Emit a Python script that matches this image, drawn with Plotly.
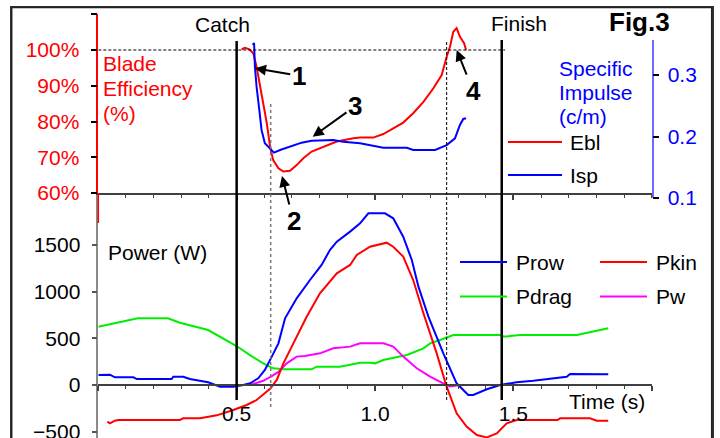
import plotly.graph_objects as go

# ---------------- data ----------------
# Lower panel: power (W) vs time (s)
t_prow = [0.000, 0.042, 0.060, 0.127, 0.139, 0.265, 0.271, 0.307, 0.331, 0.397, 0.440, 0.488, 0.524, 0.549,
          0.578, 0.602, 0.627, 0.651, 0.675, 0.717, 0.765, 0.807, 0.837, 0.862, 0.910, 0.946, 0.976, 1.036,
          1.066, 1.102, 1.133, 1.157, 1.193, 1.247, 1.295, 1.337, 1.355, 1.404, 1.452, 1.512, 1.572, 1.657,
          1.693, 1.705, 1.843]
prow = [107, 110, 82, 82, 64, 64, 89, 89, 64, 29, -18, -18, 0, 18,
        72, 161, 304, 446, 714, 929, 1125, 1286, 1446, 1536, 1643, 1732, 1839, 1839,
        1786, 1589, 1339, 1054, 732, 339, 18, -107, -107, -46, 0, 29, 46, 79,
        89, 118, 114]

t_pkin = [0.033, 0.042, 0.060, 0.072, 0.295, 0.307, 0.368, 0.428, 0.488, 0.536, 0.572, 0.602, 0.621,
          0.645, 0.669, 0.705, 0.753, 0.801, 0.862, 0.910, 0.934, 0.982, 1.042, 1.066, 1.102, 1.138,
          1.175, 1.223, 1.259, 1.295, 1.331, 1.368, 1.404, 1.440, 1.476, 1.512, 1.660, 1.669, 1.777,
          1.801, 1.843]
pkin = [-393, -411, -382, -375, -375, -357, -357, -325, -268, -214, -161, -89, -40,
        54, 232, 446, 732, 982, 1196, 1286, 1393, 1482, 1525, 1482, 1375, 1125,
        768, 339, -18, -304, -446, -536, -561, -518, -411, -375, -375, -357, -357,
        -382, -382]

t_pdrag = [0.000, 0.070, 0.143, 0.252, 0.295, 0.397, 0.501, 0.548, 0.596, 0.632, 0.669, 0.771, 0.789,
           0.873, 0.946, 0.982, 1.000, 1.030, 1.115, 1.175, 1.199, 1.235, 1.283, 1.452, 1.465, 1.477,
           1.500, 1.524, 1.730, 1.843]
pdrag = [625, 665, 714, 714, 667, 589, 415, 321, 232, 179, 168, 168, 196,
         196, 239, 239, 232, 268, 321, 393, 446, 482, 536, 536, 520, 520,
         530, 536, 536, 607]

t_pw = [0.000, 0.524, 0.560, 0.596, 0.627, 0.651, 0.681, 0.717, 0.747, 0.801, 0.849, 0.910, 0.946,
        1.030, 1.066, 1.102, 1.151, 1.199, 1.241, 1.271, 1.307, 1.843]
pw = [0, 0, 11, 45, 95, 140, 232, 304, 311, 339, 393, 411, 446,
      446, 411, 304, 179, 89, 25, -15, 0, 0]

# Upper panel: blade efficiency (%) and specific impulse (c/m)
t_ebl = [0.518, 0.530, 0.546, 0.560, 0.572, 0.584, 0.596, 0.609, 0.621, 0.632, 0.651, 0.669, 0.693,
         0.717, 0.741, 0.771, 0.813, 0.862, 0.922, 0.946, 0.994, 1.030, 1.066, 1.102, 1.138, 1.175,
         1.211, 1.241, 1.259, 1.271, 1.283, 1.295, 1.307, 1.322, 1.329]
ebl = [100.2, 100.6, 100.2, 99.1, 95.3, 89.7, 85.1, 79.5, 72.9, 69.2, 66.9, 66.0, 66.2,
       67.8, 69.7, 71.6, 72.9, 74.4, 75.3, 75.5, 75.5, 76.5, 78.1, 79.7, 82.3, 85.5,
       89.3, 93.0, 98.1, 100.9, 105.1, 106.1, 103.7, 101.9, 100.0]

t_isp = [0.558, 0.563, 0.566, 0.572, 0.582, 0.590, 0.602, 0.621, 0.635, 0.657, 0.693, 0.735, 0.771,
         0.849, 0.885, 0.934, 0.946, 1.030, 1.115, 1.138, 1.217, 1.259, 1.289, 1.307, 1.319, 1.329]
isp = [0.349, 0.352, 0.3135, 0.281, 0.243, 0.2106, 0.189, 0.181, 0.1737, 0.178, 0.1834, 0.190, 0.1932,
       0.1943, 0.1915, 0.190, 0.189, 0.1818, 0.1818, 0.178, 0.178, 0.186, 0.197, 0.2187, 0.2285, 0.2296]

# tick values / labels
x_major = [0, 0.5, 1.0, 1.5, 2.0]
x_labels = ["", "0.5", "1.0", "1.5", ""]
power_ticks = [-500, 0, 500, 1000, 1500]
eff_ticks = [60, 70, 80, 90, 100, 110]
eff_labels = ["60%", "70%", "80%", "90%", "100%", ""]
isp_ticks = [0.1, 0.2, 0.3]
isp_labels = ["0.1", "0.2", "0.3"]

catch_t = 0.5
finish_t = 1.458
dot1_t = 0.623
dot2_t = 1.259

# ---------------- layout helpers ----------------
W, H = 720, 438          # reference pixel grid
FIG_H = 449              # rendered height (page is squeezed to 438 when photographed)
FONT = "Liberation Sans, Arial, sans-serif"


def X(p):
    return p / W


def Y(p):
    return 1 - p / H


XD = [X(98.3), X(651.7)]
RED, BLUE, GREEN, MAG = "#ff0000", "#0000ff", "#00ee00", "#ff00ff"

fig = go.Figure()
lw = 2
fig.add_trace(go.Scatter(x=t_pdrag, y=pdrag, mode="lines", line=dict(color=GREEN, width=lw), name="Pdrag", xaxis="x", yaxis="y"))
fig.add_trace(go.Scatter(x=t_pw, y=pw, mode="lines", line=dict(color=MAG, width=lw), name="Pw", xaxis="x", yaxis="y"))
fig.add_trace(go.Scatter(x=t_pkin, y=pkin, mode="lines", line=dict(color=RED, width=lw), name="Pkin", xaxis="x", yaxis="y"))
fig.add_trace(go.Scatter(x=t_prow, y=prow, mode="lines", line=dict(color=BLUE, width=lw), name="Prow", xaxis="x", yaxis="y"))
fig.add_trace(go.Scatter(x=t_ebl, y=ebl, mode="lines", line=dict(color=RED, width=lw), name="Ebl", xaxis="x2", yaxis="y2"))
fig.add_trace(go.Scatter(x=t_isp, y=isp, mode="lines", line=dict(color=BLUE, width=lw), name="Isp", xaxis="x2", yaxis="y3"))
# empty trace that carries the page-frame axes
fig.add_trace(go.Scatter(x=[], y=[], mode="lines", xaxis="x5", yaxis="y4", hoverinfo="skip"))

AX = "#404040"
tf = dict(family=FONT, size=21, color="black")

common_x = dict(range=[0, 2], showgrid=False, zeroline=False, tickvals=x_major, ticktext=x_labels)

fig.update_layout(
    width=W, height=FIG_H, autosize=False,
    margin=dict(l=0, r=0, t=0, b=0),
    paper_bgcolor="white", plot_bgcolor="rgba(0,0,0,0)",
    showlegend=False,
    font=dict(family=FONT, size=21, color="black"),
    xaxis=dict(domain=XD, anchor="free", position=Y(385), showline=True, linecolor=AX, linewidth=1.5,
               ticks="outside", ticklen=5, tickwidth=1.5, tickcolor=AX, tickfont=tf, ticklabelstandoff=5,
               minor=dict(ticks="outside", ticklen=3, tickwidth=1, tickcolor=AX, dtick=0.1, tick0=0, showgrid=False),
               **common_x),
    xaxis3=dict(overlaying="x", anchor="free", position=Y(385), showline=False, ticks="inside", ticklen=5,
                tickwidth=1.5, tickcolor=AX, showticklabels=False, **common_x),
    xaxis2=dict(domain=XD, anchor="y2", showline=True, linecolor=AX, linewidth=1.5,
                ticks="outside", ticklen=5, tickwidth=1.5, tickcolor=AX, showticklabels=False,
                minor=dict(ticks="outside", ticklen=3, tickwidth=1, tickcolor=AX, dtick=0.1, tick0=0, showgrid=False),
                **common_x),
    xaxis4=dict(overlaying="x2", anchor="y2", showline=False, ticks="inside", ticklen=5, tickwidth=1.5,
                tickcolor=AX, showticklabels=False, **common_x),
    yaxis=dict(domain=[0, Y(193)], range=[(385 - 438) * 500 / 46.67, (385 - 193) * 500 / 46.67], anchor="x",
               showline=True, linecolor="#8a8a8a", linewidth=1.5, ticks="outside", ticklen=5, tickwidth=1.5,
               tickcolor="#555", tickvals=power_ticks, tickfont=tf, showgrid=False, zeroline=False,
               ticklabelstandoff=7),
    yaxis2=dict(domain=[Y(193), Y(14.25)], range=[60, 110], anchor="x2", showline=True, linecolor=RED,
                linewidth=1.5, ticks="outside", ticklen=6, tickwidth=1.5, tickcolor="black",
                tickvals=eff_ticks, ticktext=eff_labels, tickfont=dict(family=FONT, size=21, color=RED),
                showgrid=False, zeroline=False, ticklabelstandoff=7),
    yaxis3=dict(domain=[Y(198), Y(40)], range=[0.1, 0.1 + 158 / 615], anchor="free", position=X(652.7),
                side="right", showline=True, linecolor="#6b6bff", linewidth=1.5, ticks="outside", ticklen=6,
                tickwidth=1.5, tickcolor="black", tickvals=isp_ticks, ticktext=isp_labels,
                tickfont=dict(family=FONT, size=21, color=BLUE), showgrid=False, zeroline=False,
                ticklabelstandoff=4),
    # page frame drawn as axis lines (top, left, right)
    xaxis5=dict(domain=[X(11.7), X(711.7)], anchor="y4", side="top", range=[0, 1], showline=True,
                linecolor="#333333", linewidth=1.5, ticks="", showticklabels=False, showgrid=False,
                zeroline=False, fixedrange=True),
    yaxis4=dict(domain=[0, Y(7.5)], anchor="x5", range=[0, 1], showline=True, mirror=True,
                linecolor="#333333", linewidth=1.5, ticks="", showticklabels=False, showgrid=False,
                zeroline=False, fixedrange=True),
)

shapes = []
# page frame (also as a shape)
shapes.append(dict(type="rect", xref="paper", yref="paper", x0=X(11.7), x1=X(711.7), y0=-0.05, y1=Y(7.5),
                   line=dict(color="#222222", width=1.5), fillcolor="rgba(0,0,0,0)", layer="above"))
# event lines
for tv, color, width, dash, y0, y1 in [
    (catch_t, "black", 2.5, "solid", 400, 41),
    (finish_t, "black", 2.5, "solid", 400, 40),
    (dot1_t, "#777777", 1.5, "dot", 407, 103),
    (dot2_t, "black", 1, "3px,2px", 400, 40),
]:
    shapes.append(dict(type="line", xref="x", yref="paper", x0=tv, x1=tv, y0=Y(y0), y1=Y(y1),
                       line=dict(color=color, width=width, dash=dash)))
# 100% reference line
shapes.append(dict(type="line", xref="x2", yref="y2", x0=0, x1=1.47, y0=100, y1=100,
                   line=dict(color="black", width=1, dash="3px,2px")))
# red axis extension
shapes.append(dict(type="line", xref="paper", yref="paper", x0=X(98.3), x1=X(98.3), y0=Y(223), y1=Y(193),
                   line=dict(color=RED, width=1.5)))

# manual legends
legend_items = [
    ("Ebl", RED, 508, 562, 142, 568),
    ("Isp", BLUE, 508, 562, 175, 568),
    ("Prow", BLUE, 460, 507, 262, 514),
    ("Pkin", RED, 600, 647, 262, 654),
    ("Pdrag", GREEN, 460, 507, 296.5, 514),
    ("Pw", MAG, 600, 647, 296.5, 654),
]
annotations = []
for name, col, xa, xb, yy, xt in legend_items:
    shapes.append(dict(type="line", xref="paper", yref="paper", x0=X(xa), x1=X(xb), y0=Y(yy), y1=Y(yy),
                       line=dict(color=col, width=2)))
    annotations.append(dict(text=name, xref="paper", yref="paper", x=X(xt), y=Y(yy), xanchor="left",
                            yanchor="middle", showarrow=False, font=dict(family=FONT, size=21, color="black")))

texts = [
    ("Catch", 222, 24, "center", "black", 21, False),
    ("Finish", 519, 23.5, "center", "black", 21, False),
    ("Fig.3", 639, 22, "center", "black", 26, True),
    ("Blade", 101, 63.7, "left", RED, 21, False),
    ("Efficiency", 101, 88.5, "left", RED, 21, False),
    ("(%)", 101, 113, "left", RED, 21, False),
    ("Specific", 556.7, 68.8, "left", BLUE, 21, False),
    ("Impulse", 556.7, 92.5, "left", BLUE, 21, False),
    ("(c/m)", 556.7, 116.5, "left", BLUE, 21, False),
    ("Power (W)", 106, 252.5, "left", "black", 21, False),
    ("Time (s)", 566.7, 401, "left", "black", 21, False),
]
for txt, xx, yy, anc, col, sz, bold in texts:
    annotations.append(dict(text=f"<b>{txt}</b>" if bold else txt, xref="paper", yref="paper", x=X(xx), y=Y(yy),
                            xanchor=anc, yanchor="middle", showarrow=False,
                            font=dict(family=FONT, size=sz, color=col)))

# numbered callouts: (label, head_x, head_y, text_x, text_y)
callouts = [
    ("1", 255, 68.3, 298.7, 75.5),
    ("2", 282, 176, 293.5, 220),
    ("3", 312.7, 136.7, 355, 107),
    ("4", 456.7, 50, 473.3, 90),
]
sy = FIG_H / H
for lab, hx, hy, tx, ty in callouts:
    annotations.append(dict(text=f"<b>{lab}</b>", xref="paper", yref="paper", x=X(hx), y=Y(hy),
                            ax=tx - hx, ay=(ty - hy) * sy, showarrow=True, arrowhead=2, arrowsize=1.1,
                            arrowwidth=2, arrowcolor="black", standoff=0,
                            font=dict(family=FONT, size=26, color="black")))

fig.update_layout(shapes=shapes, annotations=annotations)
fig.write_html("out.html", config={"displayModeBar": False},
               post_script="document.body.style.margin='0';document.body.style.padding='0';"
                           "document.body.style.overflow='hidden';")
